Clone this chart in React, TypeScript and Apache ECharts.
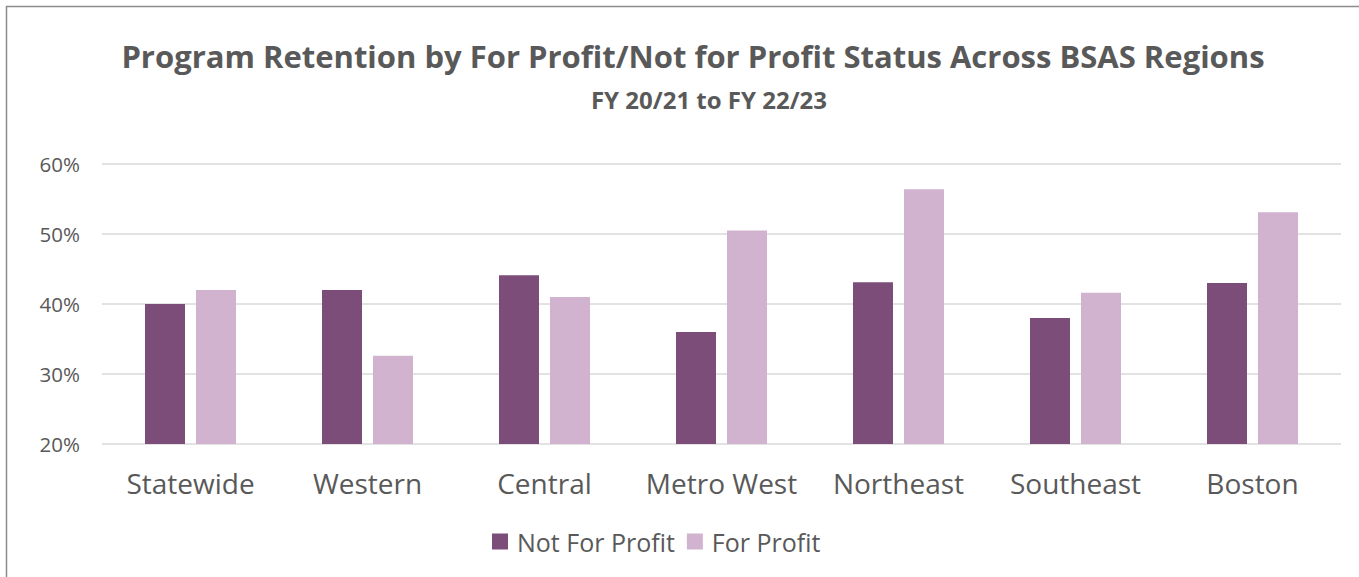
import React, { useEffect, useRef } from "react";
import * as echarts from "echarts";

const categories = ["Statewide", "Western", "Central", "Metro West", "Northeast", "Southeast", "Boston"];
const notForProfit = [40.0, 42.0, 44.1, 36.0, 43.1, 38.0, 43.0];
const forProfit = [42.0, 32.6, 41.0, 50.5, 56.4, 41.6, 53.1];
const seriesNames = ["Not For Profit", "For Profit"];
const titleText = "Program Retention by For Profit/Not for Profit Status Across BSAS Regions";
const subtitleText = "FY 20/21 to FY 22/23";

const FONT = "'Open Sans', 'Noto Sans', sans-serif";
const TEXT = "#595959";

export default function App() {
  const ref = useRef<HTMLDivElement>(null);
  useEffect(() => {
    const chart = echarts.init(ref.current!, null, { renderer: "svg" });
    chart.setOption({
      animation: false,
      backgroundColor: "#ffffff",
      title: [
        {
          text: titleText,
          left: 688,
          textAlign: "center",
          top: 35,
          textStyle: { fontFamily: FONT, fontSize: 31, fontWeight: "bold", color: TEXT },
        },
        {
          text: subtitleText,
          left: 704,
          textAlign: "center",
          top: 82,
          textStyle: { fontFamily: FONT, fontSize: 24, fontWeight: "bold", color: TEXT },
        },
      ],
      graphic: [
        {
          type: "rect",
          shape: { x: 6.5, y: 6.5, width: 1400, height: 620 },
          style: { fill: "none", stroke: "#8c8c8c", lineWidth: 1.5 },
          silent: true,
        },
      ],
      legend: {
        data: seriesNames,
        left: 492,
        top: 529,
        padding: 0,
        itemWidth: 16,
        itemHeight: 16,
        itemGap: 12,
        icon: "rect",
        textStyle: { fontFamily: FONT, fontSize: 25, color: TEXT, padding: [0, 0, 0, 4] },
      },
      grid: { left: 102, right: 18, top: 164, bottom: 133, containLabel: false },
      xAxis: {
        type: "category",
        data: categories,
        axisLine: { show: false },
        axisTick: { show: false },
        axisLabel: { interval: 0, fontFamily: FONT, fontSize: 28, color: TEXT, margin: 25 },
      },
      yAxis: {
        type: "value",
        min: 20,
        max: 60,
        interval: 10,
        axisLine: { show: false },
        axisTick: { show: false },
        axisLabel: { formatter: "{value}%", fontFamily: FONT, fontSize: 20.5, color: TEXT, margin: 22 },
        splitLine: { lineStyle: { color: "#d9d9d9", width: 1.5 } },
      },
      series: [
        {
          name: seriesNames[0],
          type: "bar",
          data: notForProfit,
          barWidth: 40,
          barGap: "27.5%",
          itemStyle: { color: "#7b4d78" },
        },
        {
          name: seriesNames[1],
          type: "bar",
          data: forProfit,
          barWidth: 40,
          barGap: "27.5%",
          itemStyle: { color: "#d1b3cf" },
        },
      ],
    });
    return () => chart.dispose();
  }, []);
  return (
    <div
      ref={ref}
      style={{ position: "absolute", left: 0, top: 0, width: 1359, height: 577 }}
    />
  );
}
